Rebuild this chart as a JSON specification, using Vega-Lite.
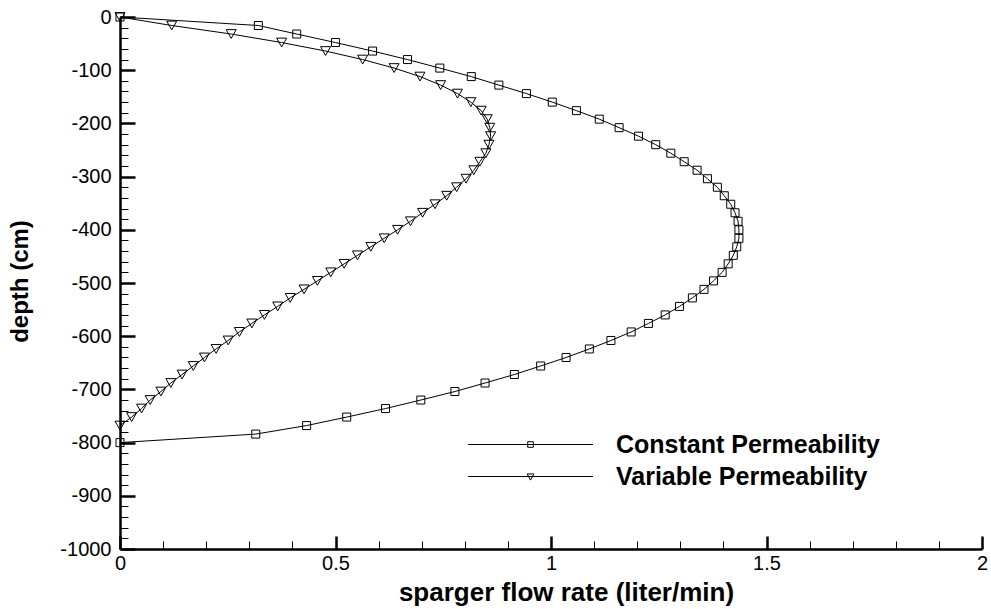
{
  "$schema": "https://vega.github.io/schema/vega-lite/v6.json",
  "width": 862,
  "height": 532,
  "autosize": {"type": "none"},
  "padding": {"left": 120, "top": 17, "right": 9, "bottom": 60},
  "background": "white",
  "config": {"view": {"stroke": null}, "font": "Liberation Sans"},
  "data": {"values": [
    {"series": "Constant Permeability", "depth": 0, "rate": 0},
    {"series": "Constant Permeability", "depth": -16, "rate": 0.321},
    {"series": "Constant Permeability", "depth": -32, "rate": 0.410},
    {"series": "Constant Permeability", "depth": -48, "rate": 0.500},
    {"series": "Constant Permeability", "depth": -64, "rate": 0.586},
    {"series": "Constant Permeability", "depth": -80, "rate": 0.667},
    {"series": "Constant Permeability", "depth": -96, "rate": 0.742},
    {"series": "Constant Permeability", "depth": -112, "rate": 0.815},
    {"series": "Constant Permeability", "depth": -128, "rate": 0.879},
    {"series": "Constant Permeability", "depth": -144, "rate": 0.943},
    {"series": "Constant Permeability", "depth": -160, "rate": 1.003},
    {"series": "Constant Permeability", "depth": -176, "rate": 1.059},
    {"series": "Constant Permeability", "depth": -192, "rate": 1.112},
    {"series": "Constant Permeability", "depth": -208, "rate": 1.158},
    {"series": "Constant Permeability", "depth": -224, "rate": 1.203},
    {"series": "Constant Permeability", "depth": -240, "rate": 1.243},
    {"series": "Constant Permeability", "depth": -256, "rate": 1.278},
    {"series": "Constant Permeability", "depth": -272, "rate": 1.309},
    {"series": "Constant Permeability", "depth": -288, "rate": 1.339},
    {"series": "Constant Permeability", "depth": -304, "rate": 1.363},
    {"series": "Constant Permeability", "depth": -320, "rate": 1.386},
    {"series": "Constant Permeability", "depth": -336, "rate": 1.402},
    {"series": "Constant Permeability", "depth": -352, "rate": 1.417},
    {"series": "Constant Permeability", "depth": -368, "rate": 1.427},
    {"series": "Constant Permeability", "depth": -384, "rate": 1.434},
    {"series": "Constant Permeability", "depth": -400, "rate": 1.436},
    {"series": "Constant Permeability", "depth": -416, "rate": 1.436},
    {"series": "Constant Permeability", "depth": -432, "rate": 1.431},
    {"series": "Constant Permeability", "depth": -448, "rate": 1.423},
    {"series": "Constant Permeability", "depth": -464, "rate": 1.411},
    {"series": "Constant Permeability", "depth": -480, "rate": 1.397},
    {"series": "Constant Permeability", "depth": -496, "rate": 1.377},
    {"series": "Constant Permeability", "depth": -512, "rate": 1.355},
    {"series": "Constant Permeability", "depth": -528, "rate": 1.328},
    {"series": "Constant Permeability", "depth": -544, "rate": 1.298},
    {"series": "Constant Permeability", "depth": -560, "rate": 1.265},
    {"series": "Constant Permeability", "depth": -576, "rate": 1.226},
    {"series": "Constant Permeability", "depth": -592, "rate": 1.186},
    {"series": "Constant Permeability", "depth": -608, "rate": 1.139},
    {"series": "Constant Permeability", "depth": -624, "rate": 1.089},
    {"series": "Constant Permeability", "depth": -640, "rate": 1.035},
    {"series": "Constant Permeability", "depth": -656, "rate": 0.976},
    {"series": "Constant Permeability", "depth": -672, "rate": 0.915},
    {"series": "Constant Permeability", "depth": -688, "rate": 0.847},
    {"series": "Constant Permeability", "depth": -704, "rate": 0.777},
    {"series": "Constant Permeability", "depth": -720, "rate": 0.698},
    {"series": "Constant Permeability", "depth": -736, "rate": 0.616},
    {"series": "Constant Permeability", "depth": -752, "rate": 0.526},
    {"series": "Constant Permeability", "depth": -768, "rate": 0.433},
    {"series": "Constant Permeability", "depth": -784, "rate": 0.315},
    {"series": "Constant Permeability", "depth": -800, "rate": 0},
    {"series": "Variable Permeability", "depth": 0, "rate": 0},
    {"series": "Variable Permeability", "depth": -16, "rate": 0.120},
    {"series": "Variable Permeability", "depth": -32, "rate": 0.258},
    {"series": "Variable Permeability", "depth": -48, "rate": 0.375},
    {"series": "Variable Permeability", "depth": -64, "rate": 0.477},
    {"series": "Variable Permeability", "depth": -80, "rate": 0.563},
    {"series": "Variable Permeability", "depth": -96, "rate": 0.636},
    {"series": "Variable Permeability", "depth": -112, "rate": 0.696},
    {"series": "Variable Permeability", "depth": -128, "rate": 0.744},
    {"series": "Variable Permeability", "depth": -144, "rate": 0.783},
    {"series": "Variable Permeability", "depth": -160, "rate": 0.814},
    {"series": "Variable Permeability", "depth": -176, "rate": 0.838},
    {"series": "Variable Permeability", "depth": -192, "rate": 0.852},
    {"series": "Variable Permeability", "depth": -208, "rate": 0.858},
    {"series": "Variable Permeability", "depth": -224, "rate": 0.860},
    {"series": "Variable Permeability", "depth": -240, "rate": 0.856},
    {"series": "Variable Permeability", "depth": -256, "rate": 0.849},
    {"series": "Variable Permeability", "depth": -272, "rate": 0.835},
    {"series": "Variable Permeability", "depth": -288, "rate": 0.821},
    {"series": "Variable Permeability", "depth": -304, "rate": 0.803},
    {"series": "Variable Permeability", "depth": -320, "rate": 0.781},
    {"series": "Variable Permeability", "depth": -336, "rate": 0.758},
    {"series": "Variable Permeability", "depth": -352, "rate": 0.731},
    {"series": "Variable Permeability", "depth": -368, "rate": 0.702},
    {"series": "Variable Permeability", "depth": -384, "rate": 0.674},
    {"series": "Variable Permeability", "depth": -400, "rate": 0.644},
    {"series": "Variable Permeability", "depth": -416, "rate": 0.613},
    {"series": "Variable Permeability", "depth": -432, "rate": 0.582},
    {"series": "Variable Permeability", "depth": -448, "rate": 0.551},
    {"series": "Variable Permeability", "depth": -464, "rate": 0.520},
    {"series": "Variable Permeability", "depth": -480, "rate": 0.489},
    {"series": "Variable Permeability", "depth": -496, "rate": 0.458},
    {"series": "Variable Permeability", "depth": -512, "rate": 0.427},
    {"series": "Variable Permeability", "depth": -528, "rate": 0.395},
    {"series": "Variable Permeability", "depth": -544, "rate": 0.366},
    {"series": "Variable Permeability", "depth": -560, "rate": 0.335},
    {"series": "Variable Permeability", "depth": -576, "rate": 0.306},
    {"series": "Variable Permeability", "depth": -592, "rate": 0.277},
    {"series": "Variable Permeability", "depth": -608, "rate": 0.251},
    {"series": "Variable Permeability", "depth": -624, "rate": 0.223},
    {"series": "Variable Permeability", "depth": -640, "rate": 0.196},
    {"series": "Variable Permeability", "depth": -656, "rate": 0.170},
    {"series": "Variable Permeability", "depth": -672, "rate": 0.144},
    {"series": "Variable Permeability", "depth": -688, "rate": 0.118},
    {"series": "Variable Permeability", "depth": -704, "rate": 0.095},
    {"series": "Variable Permeability", "depth": -720, "rate": 0.070},
    {"series": "Variable Permeability", "depth": -736, "rate": 0.050},
    {"series": "Variable Permeability", "depth": -752, "rate": 0.027},
    {"series": "Variable Permeability", "depth": -768, "rate": 0}
  ]},
  "encoding": {
    "x": {
      "field": "rate", "type": "quantitative",
      "scale": {"domain": [0, 2], "nice": false, "zero": false},
      "axis": {
        "values": [0, 0.1, 0.2, 0.3, 0.4, 0.5, 0.6, 0.7, 0.8, 0.9, 1, 1.1, 1.2, 1.3, 1.4, 1.5, 1.6, 1.7, 1.8, 1.9, 2],
        "labelExpr": "round(datum.value * 10) % 5 === 0 ? format(datum.value, '~g') : ''",
        "labelFlush": false, "labelOverlap": false,
        "labelFont": "Liberation Sans", "labelFontSize": 20, "labelColor": "black", "labelPadding": 17,
        "tickSize": {"condition": {"test": "round(datum.value * 10) % 5 === 0", "value": -13}, "value": -8},
        "tickWidth": {"condition": {"test": "round(datum.value * 10) % 5 === 0", "value": 2.5}, "value": 1},
        "tickColor": "black",
        "domainColor": "black", "domainWidth": 2.5,
        "grid": false,
        "title": "sparger flow rate (liter/min)",
        "titleFont": "Liberation Sans", "titleFontSize": 26, "titleFontWeight": "bold", "titleColor": "black",
        "titleBaseline": "alphabetic", "titleY": 51, "titleX": 446
      }
    },
    "y": {
      "field": "depth", "type": "quantitative",
      "scale": {"domain": [-1000, 0], "nice": false, "zero": false},
      "axis": {
        "values": [0, -20, -40, -60, -80, -100, -120, -140, -160, -180, -200, -220, -240, -260, -280, -300, -320, -340, -360, -380, -400, -420, -440, -460, -480, -500, -520, -540, -560, -580, -600, -620, -640, -660, -680, -700, -720, -740, -760, -780, -800, -820, -840, -860, -880, -900, -920, -940, -960, -980, -1000],
        "labelExpr": "datum.value % 100 === 0 ? '' + datum.value : ''",
        "labelFlush": false, "labelOverlap": false,
        "labelFont": "Liberation Sans", "labelFontSize": 20, "labelColor": "black", "labelPadding": 24,
        "tickSize": {"condition": {"test": "datum.value % 100 === 0", "value": -15}, "value": -8},
        "tickWidth": {"condition": {"test": "datum.value % 100 === 0", "value": 2.5}, "value": 1},
        "tickColor": "black",
        "domainColor": "black", "domainWidth": 2.5,
        "grid": false,
        "title": "depth (cm)",
        "titleFont": "Liberation Sans", "titleFontSize": 24, "titleFontWeight": "bold", "titleColor": "black",
        "titleBaseline": "alphabetic", "titleAngle": -90, "titleX": -93, "titleY": 264
      }
    }
  },
  "layer": [
    {
      "mark": {"type": "line", "color": "black", "strokeWidth": 1},
      "encoding": {
        "detail": {"field": "series", "type": "nominal"},
        "order": {"field": "depth", "sort": "descending"}
      }
    },
    {
      "mark": {"type": "point", "filled": false, "color": "black", "strokeWidth": 1, "opacity": 1, "size": 64},
      "encoding": {
        "shape": {
          "field": "series", "type": "nominal",
          "scale": {"domain": ["Constant Permeability", "Variable Permeability"], "range": ["square", "M-1.25,-1.1L1.25,-1.1L0,1.1Z"]},
          "legend": null
        }
      }
    },
    {
      "mark": {"type": "point", "filled": false, "color": "black", "strokeWidth": 1, "opacity": 0, "size": 256},
      "encoding": {
        "shape": {
          "field": "series", "type": "nominal",
          "scale": {"domain": ["Constant Permeability", "Variable Permeability"], "range": ["M-7.8,0H7.8M-0.35,-0.35H0.35V0.35H-0.35Z", "M-7.8,0H7.8M-0.42,-0.32L0.42,-0.32L0,0.45Z"]},
          "legend": {
            "title": null,
            "orient": "none",
            "legendX": 398,
            "legendY": 415,
            "labelFont": "Liberation Sans", "labelFontSize": 25, "labelFontWeight": "bold", "labelColor": "black",
            "labelLimit": 500,
            "labelOffset": 73,
            "rowPadding": 6,
            "symbolSize": 256,
            "symbolOpacity": 1,
            "symbolStrokeColor": "black",
            "symbolStrokeWidth": 1,
            "symbolFillColor": "transparent"
          }
        }
      }
    }
  ],
  "resolve": {"scale": {"shape": "independent"}, "legend": {"shape": "independent"}}
}
